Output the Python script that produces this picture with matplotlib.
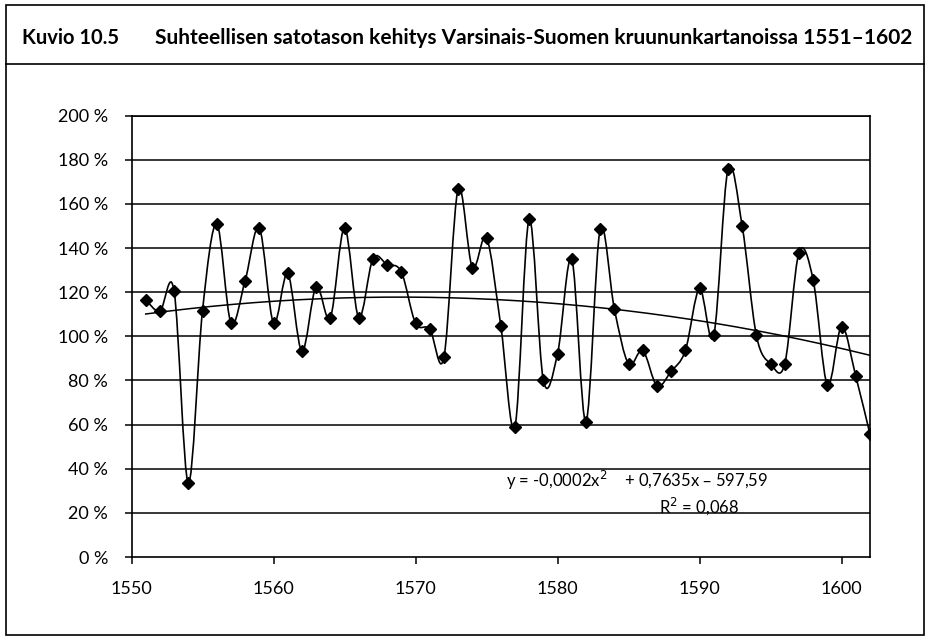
import matplotlib
matplotlib.use("Agg")
import matplotlib.pyplot as plt
import numpy as np
from matplotlib.path import Path
from matplotlib.patches import PathPatch, Rectangle
from matplotlib.lines import Line2D

plt.rcParams['font.family'] = ['Lato', 'DejaVu Sans']

# relative harvest level, %
years = list(range(1551, 1603))
level = [116.5, 111.4, 120.5, 33.5, 111.7, 151.0, 106.2, 125.2, 149.2, 106.0,
         128.5, 93.2, 122.5, 108.4, 149.2, 108.5, 135.2, 132.5, 129.2, 106.0,
         103.4, 90.5, 166.8, 131.2, 144.7, 104.9, 59.1, 153.0, 80.1, 92.1,
         135.0, 61.3, 148.5, 112.4, 87.5, 93.6, 77.6, 84.2, 93.6, 121.7,
         100.4, 175.8, 150.0, 100.4, 87.6, 87.6, 138.0, 125.5, 77.9, 104.4,
         81.9, 55.6]
y_ticks = [0, 20, 40, 60, 80, 100, 120, 140, 160, 180, 200]
x_ticks = [1550, 1560, 1570, 1580, 1590, 1600]

header = "Kuvio 10.5"
title = "Suhteellisen satotason kehitys Varsinais-Suomen kruununkartanoissa 1551\u20131602"
eq1 = "y = -0,0002x$^2$    + 0,7635x \u2013 597,59"
eq2 = "R$^2$ = 0,068"

W, H = 929, 637
fig = plt.figure(figsize=(W / 100, H / 100), dpi=100)
ax = fig.add_axes([131.5 / W, 1 - 557 / H, (870 - 131.5) / W, (557 - 115.7) / H])

# outer frame and header line
fig.patches.append(Rectangle((6 / W, 1 - 635 / H), (924 - 6) / W, (635 - 5) / H,
                             transform=fig.transFigure, fill=False, lw=1.2, ec='black'))
fig.lines.append(Line2D([6 / W, 924 / W], [1 - 64 / H, 1 - 64 / H],
                        transform=fig.transFigure, lw=1.2, color='black'))
fig.text(22 / W, 1 - 38 / H, header, fontsize=14.5, fontweight='bold', va='center')
fig.text(155 / W, 1 - 38 / H, title, fontsize=15, fontweight='bold', va='center')

# grid
for t in y_ticks[1:]:
    ax.axhline(t, color='black', lw=1.1, zorder=1)

# smoothed line (Catmull-Rom bezier through points)
x = np.array(years, dtype=float)
y = np.array(level)
px = np.concatenate([[x[0]], x, [x[-1]]])
py = np.concatenate([[y[0]], y, [y[-1]]])
verts = [(x[0], y[0])]
codes = [Path.MOVETO]
for i in range(1, len(px) - 2):
    c1 = (px[i] + (px[i + 1] - px[i - 1]) / 6, py[i] + (py[i + 1] - py[i - 1]) / 6)
    c2 = (px[i + 1] - (px[i + 2] - px[i]) / 6, py[i + 1] - (py[i + 2] - py[i]) / 6)
    verts += [c1, c2, (px[i + 1], py[i + 1])]
    codes += [Path.CURVE4] * 3
ax.add_patch(PathPatch(Path(verts, codes), fill=False, lw=1.2, ec='black', zorder=3))
ax.plot(years, level, ls='none', marker='D', ms=6.5, color='black', zorder=4)

# polynomial trend line
coef = np.polyfit(x, y, 2)
xt = np.linspace(x[0], x[-1], 200)
ax.plot(xt, np.polyval(coef, xt), color='black', lw=1.1, zorder=2)

fig.text(637 / W, 1 - 480.7 / H, eq1, fontsize=12, ha='center', va='center')
fig.text(699 / W, 1 - 506 / H, eq2, fontsize=12, ha='center', va='center')

ax.set_xlim(1550, 1602)
ax.set_ylim(0, 200)
ax.set_yticks(y_ticks)
ax.set_yticklabels([f"{t} %" for t in y_ticks])
ax.set_xticks(x_ticks)
ax.tick_params(axis='both', direction='out', length=5, width=1.1, labelsize=13, pad=12)
for s in ax.spines.values():
    s.set_linewidth(1.2)

fig.savefig("out.png", dpi=100)
